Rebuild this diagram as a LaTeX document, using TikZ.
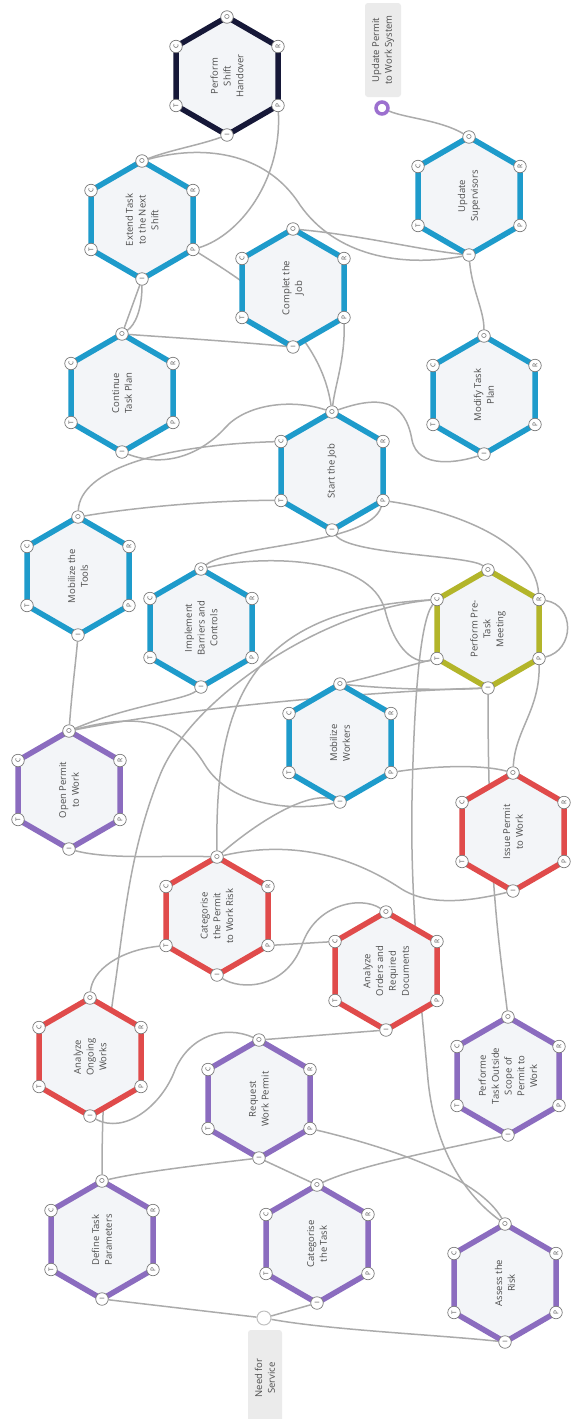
\documentclass[tikz,border=0pt]{standalone}
\usepackage{fontspec}
\setmainfont{Open Sans}
\usetikzlibrary{calc}
\pgfdeclarelayer{bg}
\pgfsetlayers{bg,main}
\definecolor{cblue}{HTML}{1E9BCB}
\definecolor{cpurple}{HTML}{8B6CBF}
\definecolor{cring}{HTML}{9C70CF}
\definecolor{cred}{HTML}{E04B4B}
\definecolor{colive}{HTML}{B3B52A}
\definecolor{cnavy}{HTML}{161838}
\definecolor{hexfill}{HTML}{F3F5F8}
\definecolor{linkc}{HTML}{ABABAB}
\definecolor{txt}{HTML}{4D4D4D}
\definecolor{portline}{HTML}{7A7A7A}
\definecolor{labelbg}{HTML}{EBEBEB}
\tikzset{
  port/.style={circle, draw=portline, line width=0.7pt, fill=white, minimum size=12.5pt, inner sep=0pt, font=\fontsize{6.5}{7}\selectfont, text=txt, rotate=90},
  hextext/.style={rotate=90, align=center, font=\fontsize{9.5}{12.8}\selectfont, text=txt, inner sep=0pt},
  link/.style={draw=linkc, line width=1.5pt},
  hexband/.style={line width=5.5pt, line join=miter},
  lblbox/.style={rotate=90, align=center, font=\fontsize{9.5}{12.8}\selectfont, text=txt, fill=labelbg, rounded corners=3pt, inner sep=0pt},
}
\newcommand\fhex[5]{%
  \fill[hexfill] (#2,#3) +(0,-59) -- +(51,-29.5) -- +(51,29.5) -- +(0,59) -- +(-51,29.5) -- +(-51,-29.5) -- cycle;
  \draw[hexband,#4] (#2,#3) +(0,-59) -- +(51,-29.5) -- +(51,29.5) -- +(0,59) -- +(-51,29.5) -- +(-51,-29.5) -- cycle;
  \node[hextext] (#1) at (#2,#3) {#5};
  \node[port] (#1-O) at ($(#2,#3)+(0,-59)$) {O};
  \node[port] (#1-R) at ($(#2,#3)+(51,-29.5)$) {R};
  \node[port] (#1-P) at ($(#2,#3)+(51,29.5)$) {P};
  \node[port] (#1-I) at ($(#2,#3)+(0,59)$) {I};
  \node[port] (#1-T) at ($(#2,#3)+(-51,29.5)$) {T};
  \node[port] (#1-C) at ($(#2,#3)+(-51,-29.5)$) {C};
}
\begin{document}
\begin{tikzpicture}[x=1pt,y=-1pt]
\useasboundingbox (0,0) rectangle (571,1419);
\begin{pgfonlayer}{bg}
\fill[white] (0,0) rectangle (571,1419);
\end{pgfonlayer}

% functions
\fhex{psh}{227}{76}{cnavy}{Perform\\Shift\\Handover}
\fhex{et}{142}{220}{cblue}{Extend Task\\to the Next\\Shift}
\fhex{us}{469}{196}{cblue}{Update\\Supervisors}
\fhex{cj}{293}{288}{cblue}{Complet the\\Job}
\fhex{ctp}{122}{393}{cblue}{Continue\\Task Plan}
\fhex{mtp}{484}{395}{cblue}{Modify Task\\Plan}
\fhex{sj}{332}{471}{cblue}{Start the Job}
\fhex{mt}{78}{576}{cblue}{Mobilize the\\Tools}
\fhex{ib}{201}{628}{cblue}{Implement\\Barriers and\\Controls}
\fhex{ptm}{488}{629}{colive}{Perform Pre-\\Task\\Meeting}
\fhex{mw}{340}{743}{cblue}{Mobilize\\Workers}
\fhex{opw}{69}{790}{cpurple}{Open Permit\\to Work}
\fhex{ipw}{513}{832}{cred}{Issue Permit\\to Work}
\fhex{cpr}{217}{916}{cred}{Categorise\\the Permit\\to Work Risk}
\fhex{aod}{386}{971}{cred}{Analyze\\Orders and\\Required\\Documents}
\fhex{aow}{90}{1057}{cred}{Analyze\\Ongoing\\Works}
\fhex{rwp}{259}{1099}{cpurple}{Request\\Work Permit}
\fhex{pto}{508}{1076}{cpurple}{Performe\\Task Outside\\Scope of\\Permit to\\Work}
\fhex{dtp}{102}{1240}{cpurple}{Define Task\\Parameters}
\fhex{ct}{317}{1244}{cpurple}{Categorise\\the Task}
\fhex{ar}{505}{1283}{cpurple}{Assess the\\Risk}

% start / end points
\node[lblbox, minimum width=94pt, minimum height=36pt] (upwlabel) at (383,50) {Update Permit\\to Work System};
\node[circle, draw=cring, line width=3.5pt, fill=white, minimum size=12pt, inner sep=0pt] (upw) at (382,108) {};
\node[lblbox, minimum width=96pt, minimum height=34pt] (nfslabel) at (265,1378) {Need for\\Service};
\node[circle, draw=black!25, line width=1pt, fill=white, minimum size=14pt, inner sep=0pt] (nfs) at (264,1318) {};

\begin{pgfonlayer}{bg}
\draw[link] (upw) .. controls (405,118) and (440,120) .. (us-O);
\draw[link] (psh-I) .. controls (200,145) and (170,150) .. (et-O);
\draw[link] (psh-P) .. controls (282,180) and (240,235) .. (et-P);
\draw[link] (et-O) .. controls (200,145) and (265,150) .. (300,205) .. controls (335,255) and (400,268) .. (us-I);
\draw[link] (cj-O) .. controls (360,235) and (420,250) .. (us-I);
\draw[link] (us-I) .. controls (472,290) and (484,310) .. (mtp-O);
\draw[link] (et-I) -- (ctp-O);
\draw[link] (et-I) .. controls (142,310) and (135,325) .. (ctp-O);
\draw[link] (ctp-O) .. controls (180,338) and (240,342) .. (cj-I);
\draw[link] (et-P) .. controls (250,285) and (320,330) .. (sj-O);
\draw[link] (cj-P) .. controls (345,360) and (335,385) .. (sj-O);
\draw[link] (ctp-I) .. controls (165,468) and (200,455) .. (225,428) .. controls (245,405) and (290,398) .. (sj-O);
\draw[link] (sj-O) .. controls (380,395) and (405,400) .. (412,440) .. controls (418,470) and (460,462) .. (mtp-I);
\draw[link] (mt-O) .. controls (80,470) and (160,445) .. (sj-C);
\draw[link] (mt-O) .. controls (150,505) and (230,500) .. (sj-T);
\draw[link] (sj-P) .. controls (450,510) and (535,540) .. (ptm-R);
\draw[link] (sj-I) .. controls (350,555) and (470,555) .. (ptm-O);
\draw[link] (ib-O) .. controls (230,545) and (370,545) .. (sj-P);
\draw[link] (ib-O) .. controls (260,555) and (370,555) .. (385,610) .. controls (395,650) and (415,665) .. (ptm-T);
\draw[link] (ptm-P) .. controls (575,650) and (575,605) .. (ptm-R);
\draw[link] (ptm-P) .. controls (540,710) and (515,730) .. (ipw-O);
\draw[link] (mw-P) .. controls (440,765) and (485,765) .. (ipw-O);
\draw[link] (ptm-I) .. controls (488,880) and (500,950) .. (pto-O);
\draw[link] (opw-O) .. controls (72,690) and (76,660) .. (mt-I);
\draw[link] (opw-O) .. controls (130,705) and (185,700) .. (ib-I);
\draw[link] (opw-O) .. controls (200,705) and (400,690) .. (ptm-I);
\draw[link] (opw-O) .. controls (130,715) and (175,715) .. (205,765) .. controls (230,805) and (290,812) .. (mw-I);
\draw[link] (mw-O) .. controls (380,675) and (410,665) .. (ptm-T);
\draw[link] (mw-O) .. controls (400,690) and (450,690) .. (ptm-I);
\draw[link] (cpr-O) .. controls (215,700) and (250,610) .. (ptm-C);
\draw[link] (dtp-O) .. controls (102,1110) and (105,1050) .. (115,985) .. controls (125,915) and (130,850) .. (160,775) .. controls (190,700) and (320,610) .. (ptm-C);
\draw[link] (ar-O) .. controls (465,1195) and (435,1150) .. (428,1080) .. controls (421,1000) and (410,900) .. (412,800) .. controls (414,700) and (420,620) .. (ptm-C);
\draw[link] (cpr-O) .. controls (170,855) and (110,860) .. (opw-I);
\draw[link] (cpr-O) .. controls (290,840) and (350,855) .. (400,888) .. controls (430,908) and (475,900) .. (ipw-I);
\draw[link] (cpr-O) .. controls (260,820) and (310,790) .. (mw-I);
\draw[link] (cpr-P) -- (aod-C);
\draw[link] (cpr-I) .. controls (240,990) and (285,990) .. (302,945) .. controls (315,905) and (360,895) .. (aod-O);
\draw[link] (cpr-T) .. controls (120,950) and (92,970) .. (aow-O);
\draw[link] (aod-I) -- (rwp-O);
\draw[link] (rwp-O) .. controls (225,1025) and (190,1035) .. (175,1070) .. controls (162,1105) and (125,1135) .. (aow-I);
\draw[link] (rwp-I) .. controls (200,1165) and (140,1172) .. (dtp-O);
\draw[link] (rwp-I) -- (ct-O);
\draw[link] (pto-I) .. controls (440,1150) and (360,1165) .. (ct-O);
\draw[link] (rwp-P) .. controls (400,1150) and (480,1180) .. (ar-O);
\draw[link] (nfs) -- (dtp-I);
\draw[link] (nfs) -- (ct-I);
\draw[link] (nfs) .. controls (330,1330) and (440,1335) .. (ar-I);
\end{pgfonlayer}
\end{tikzpicture}
\end{document}
